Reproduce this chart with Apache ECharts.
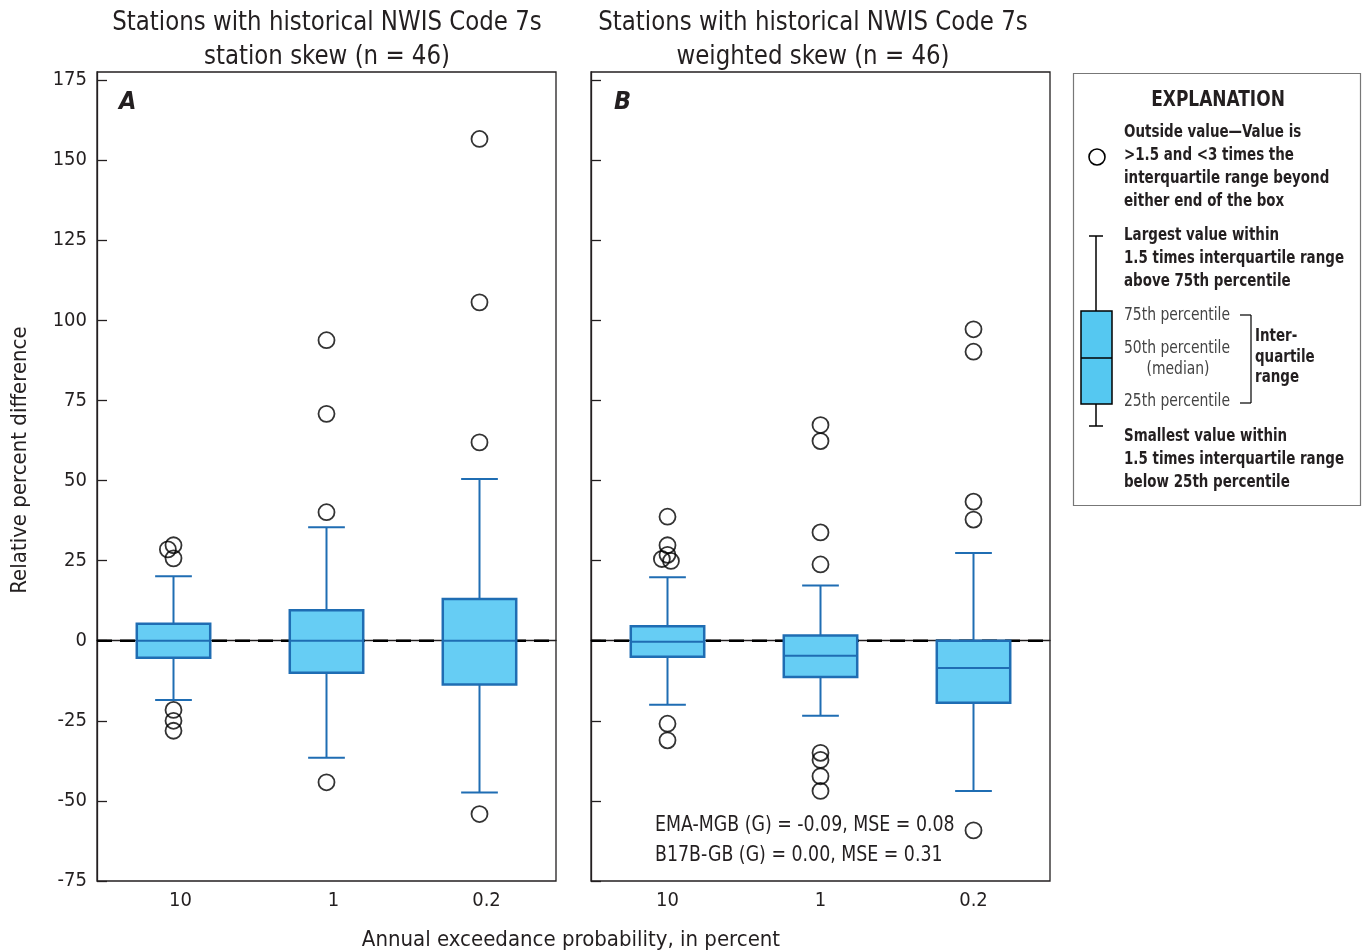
<!DOCTYPE html>
<html>
<head>
<meta charset="utf-8">
<script src="https://cdn.jsdelivr.net/npm/echarts@6/dist/echarts.min.js"></script>
<style>
  html, body { margin: 0; padding: 0; background: #fff; }
  #chart { width: 1362px; height: 952px; }
</style>
</head>
<body>
<div id="chart"></div>
<script>
// Annual exceedance probability categories (percent)
const categories = ['10', '1', '0.2'];
const yTicks = [-75, -50, -25, 0, 25, 50, 75, 100, 125, 150, 175];
// Reference level drawn as a dashed line
const referenceLevel = 0;

// Box statistics per category: [lower whisker, Q1, median, Q3, upper whisker]
const boxesStation = [
  [-18.5, -5.3, 0, 5.3, 20.1],
  [-36.5, -10.0, 0, 9.5, 35.4],
  [-47.4, -13.7, 0, 13.0, 50.5]
];
const boxesWeighted = [
  [-20.0, -5.0, -0.3, 4.5, 19.8],
  [-23.4, -11.3, -4.7, 1.6, 17.2],
  [-46.9, -19.4, -8.5, 0.0, 27.4]
];

// Outside values per category
const outliersStation = [
  [29.8, 28.5, 25.7, -21.6, -25.0, -28.1],
  [93.8, 70.8, 40.1, -44.2],
  [156.6, 105.6, 61.9, -54.1]
];
const outliersWeighted = [
  [38.7, 29.8, 26.8, 25.5, 24.9, -25.9, -31.1],
  [67.3, 62.3, 33.8, 23.8, -35.0, -37.2, -42.3, -46.9],
  [97.2, 90.2, 43.4, 37.8, -59.2]
];

const FONT = '"Liberation Sans Narrow", "DejaVu Sans Condensed", "Roboto", sans-serif';
const BLUE = '#1f6db3';
const FILL = '#66cdf4';
const INK = '#231f20';

function boxData(boxes) {
  return boxes.map((b, i) => [i].concat(b));
}
function outlierData(groups) {
  const out = [];
  groups.forEach((vals, i) => vals.forEach(v => out.push([i, v])));
  return out;
}

// Box, median, whiskers and half-width whisker caps
function renderBox(params, api) {
  const idx = api.value(0);
  const lo = api.coord([idx, api.value(1)]);
  const q1 = api.coord([idx, api.value(2)]);
  const md = api.coord([idx, api.value(3)]);
  const q3 = api.coord([idx, api.value(4)]);
  const hi = api.coord([idx, api.value(5)]);
  const band = api.size([1, 0])[0];
  const bw = band * 0.48;
  const cw = bw * 0.5;
  const cx = lo[0];
  const ls = { stroke: BLUE, lineWidth: 2 };
  return {
    type: 'group',
    children: [
      { type: 'line', shape: { x1: cx, y1: hi[1], x2: cx, y2: q3[1] }, style: ls },
      { type: 'line', shape: { x1: cx, y1: q1[1], x2: cx, y2: lo[1] }, style: ls },
      { type: 'line', shape: { x1: cx - cw / 2, y1: hi[1], x2: cx + cw / 2, y2: hi[1] }, style: ls },
      { type: 'line', shape: { x1: cx - cw / 2, y1: lo[1], x2: cx + cw / 2, y2: lo[1] }, style: ls },
      { type: 'rect', shape: { x: cx - bw / 2, y: q3[1], width: bw, height: q1[1] - q3[1] },
        style: { fill: FILL, stroke: BLUE, lineWidth: 2.5 } },
      { type: 'line', shape: { x1: cx - bw / 2, y1: md[1], x2: cx + bw / 2, y2: md[1] }, style: ls }
    ]
  };
}

// Dashed horizontal reference line spanning the whole plot
function renderReference(params, api) {
  const cs = params.coordSys;
  const y = api.coord([0, api.value(1)])[1];
  return {
    type: 'line',
    shape: { x1: cs.x, y1: y, x2: cs.x + cs.width, y2: y },
    style: { stroke: '#000', lineWidth: 2.5, lineDash: [15, 8] }
  };
}

function xAxisFor(gridIndex, shift) {
  return {
    type: 'category', gridIndex: gridIndex, data: categories,
    boundaryGap: true,
    jitter: 24, jitterOverlap: false, jitterMargin: -9,
    axisLine: { show: true, lineStyle: { color: INK, width: 1.3 } },
    axisTick: { show: false },
    axisLabel: { color: INK, fontFamily: FONT, fontSize: 20, margin: 10, padding: [0, 0, 0, shift] },
    splitLine: { show: false }
  };
}
function yAxisFor(gridIndex, showLabels) {
  return {
    type: 'value', gridIndex: gridIndex, min: -75, max: 177.5,
    axisLine: { show: true, lineStyle: { color: INK, width: 1.3 } },
    axisTick: { show: true, inside: true, length: 10, customValues: yTicks, lineStyle: { color: INK, width: 1.3 } },
    axisLabel: { show: showLabels, customValues: yTicks, color: INK, fontFamily: FONT, fontSize: 20, margin: 10 },
    splitLine: { show: false }
  };
}

function panelSeries(idx, boxes, outliers) {
  return [
    {
      type: 'custom', xAxisIndex: idx, yAxisIndex: idx, z: 1, silent: true,
      renderItem: renderReference,
      encode: { x: 0, y: 1 },
      clip: false,
      data: [[0, referenceLevel]]
    },
    {
      type: 'custom', xAxisIndex: idx, yAxisIndex: idx, z: 10,
      renderItem: renderBox,
      encode: { x: 0, y: [1, 2, 3, 4, 5] },
      data: boxData(boxes)
    },
    {
      type: 'scatter', xAxisIndex: idx, yAxisIndex: idx, z: 11,
      symbol: 'circle', symbolSize: 16,
      itemStyle: { color: 'rgba(0,0,0,0)', borderColor: '#000', borderWidth: 1.8 },
      data: outlierData(outliers)
    }
  ];
}

const txt = (text, x, y, opts, sx) => ({
  type: 'text', x: x, y: y, scaleX: sx || 1,
  style: Object.assign({ text: text, fontFamily: FONT, fontSize: 18, fill: INK,
    textAlign: 'left', textVerticalAlign: 'middle' }, opts || {})
});
const seg = (x1, y1, x2, y2, w) => ({
  type: 'line', shape: { x1: x1, y1: y1, x2: x2, y2: y2 },
  style: { stroke: '#000', lineWidth: w || 1.5 }
});
const B = { fontWeight: 'bold', fontSize: 18 };
const BS = 0.83;
const R = { fontSize: 18, fill: '#444' };
const RS = 0.86;

const graphics = [
  // panel titles
  txt('Stations with historical NWIS Code 7s', 327, 23, { fontSize: 26, textAlign: 'center' }, 0.98),
  txt('station skew (n = 46)', 327, 57, { fontSize: 26, textAlign: 'center' }, 0.98),
  txt('Stations with historical NWIS Code 7s', 813, 23, { fontSize: 26, textAlign: 'center' }, 0.98),
  txt('weighted skew (n = 46)', 813, 57, { fontSize: 26, textAlign: 'center' }, 0.98),
  // panel letters
  txt('A', 119, 102, { fontSize: 25, fontWeight: 'bold', fontStyle: 'italic' }),
  txt('B', 614, 102, { fontSize: 25, fontWeight: 'bold', fontStyle: 'italic' }),
  // axis names
  txt('Annual exceedance probability, in percent', 571, 940, { fontSize: 22, textAlign: 'center' }),
  {
    type: 'text', x: 20, y: 460, rotation: Math.PI / 2,
    style: { text: 'Relative percent difference', fontFamily: FONT, fontSize: 22, fill: INK,
      textAlign: 'center', textVerticalAlign: 'middle' }
  },
  // skew summary in panel B
  txt('EMA-MGB (G) = -0.09, MSE = 0.08', 655, 826, { fontSize: 21 }, 0.92),
  txt('B17B-GB (G) = 0.00, MSE = 0.31', 655, 856, { fontSize: 21 }, 0.92),

  // explanation box
  { type: 'rect', shape: { x: 1073.5, y: 73.5, width: 287, height: 432 },
    style: { fill: '#fff', stroke: '#777', lineWidth: 1.2 } },
  txt('EXPLANATION', 1218, 101, { fontSize: 21, fontWeight: 'bold', textAlign: 'center' }, 0.9),
  { type: 'circle', shape: { cx: 1097, cy: 157, r: 8 },
    style: { fill: 'none', stroke: '#000', lineWidth: 1.6 } },
  txt('Outside value\u2014Value is', 1124, 132, B, BS),
  txt('>1.5 and <3 times the', 1124, 155, B, BS),
  txt('interquartile range beyond', 1124, 178, B, BS),
  txt('either end of the box', 1124, 201, B, BS),
  seg(1096, 236, 1096, 311),
  seg(1089, 236, 1103, 236),
  seg(1096, 404, 1096, 426),
  seg(1089, 426, 1103, 426),
  { type: 'rect', shape: { x: 1081, y: 311, width: 31, height: 93 },
    style: { fill: '#55c8f1', stroke: '#000', lineWidth: 1.5 } },
  seg(1081, 358, 1112, 358),
  txt('Largest value within', 1124, 235, B, BS),
  txt('1.5 times interquartile range', 1124, 258, B, BS),
  txt('above 75th percentile', 1124, 281, B, BS),
  txt('75th percentile', 1124, 315, R, RS),
  txt('50th percentile', 1124, 348, R, RS),
  txt('(median)', 1178, 369, Object.assign({ textAlign: 'center' }, R), RS),
  txt('25th percentile', 1124, 401, R, RS),
  seg(1240, 315, 1251, 315, 1.2),
  seg(1251, 315, 1251, 403, 1.2),
  seg(1240, 403, 1251, 403, 1.2),
  txt('Inter-', 1255, 336, B, BS),
  txt('quartile', 1255, 357, B, BS),
  txt('range', 1255, 377, B, BS),
  txt('Smallest value within', 1124, 436, B, BS),
  txt('1.5 times interquartile range', 1124, 459, B, BS),
  txt('below 25th percentile', 1124, 482, B, BS)
];

const chart = echarts.init(document.getElementById('chart'), null, { renderer: 'canvas' });
chart.setOption({
  backgroundColor: '#fff',
  animation: false,
  grid: [
    { left: 97, top: 72, width: 459, height: 809, show: true, borderColor: INK, borderWidth: 1.3, backgroundColor: 'transparent' },
    { left: 591, top: 72, width: 459, height: 809, show: true, borderColor: INK, borderWidth: 1.3, backgroundColor: 'transparent' }
  ],
  xAxis: [xAxisFor(0, 14), xAxisFor(1, 0)],
  yAxis: [yAxisFor(0, true), yAxisFor(1, false)],
  series: panelSeries(0, boxesStation, outliersStation)
    .concat(panelSeries(1, boxesWeighted, outliersWeighted)),
  graphic: graphics
});
</script>
</body>
</html>
